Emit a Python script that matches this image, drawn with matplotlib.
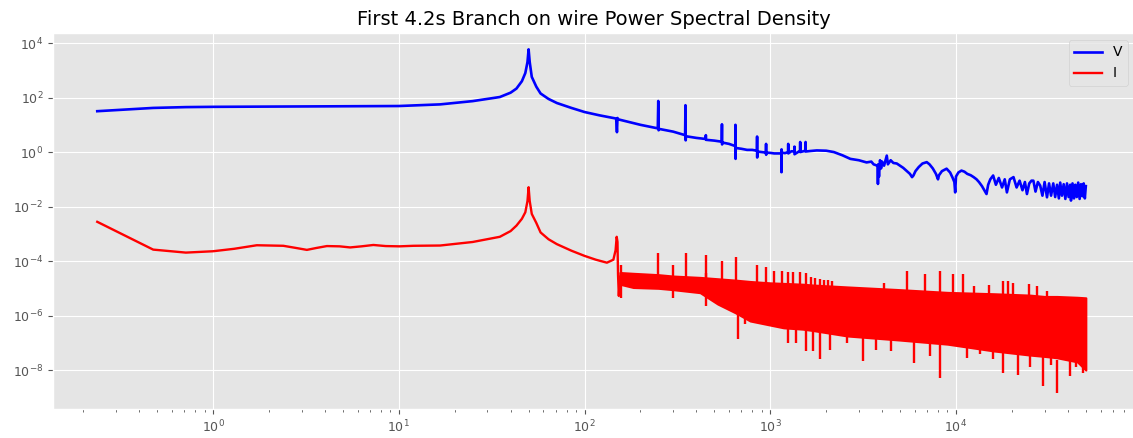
import numpy as np
import matplotlib.pyplot as plt

# PSD values are written as log10 (decades)
V_freq = [0.238, 0.476, 0.714, 1.0, 2.0, 5.0, 10.0, 16.7, 25, 35, 40, 43, 46, 48, 49.3, 50, 50.7, 52, 55, 58, 64, 71, 85, 100, 120,
          148, 149.5, 150.5, 152, 200, 248, 249.5, 250.5, 252, 300, 348, 349.5, 350.5, 352, 400, 449, 450, 451, 500,
          548, 549.5, 550.5, 552, 600, 648, 649.5, 650.5, 652, 700, 750, 800, 848, 849.5, 850.5, 852, 900,
          948, 949.5, 950.5, 952, 1000, 1050, 1148, 1149.5, 1150.5, 1152, 1200, 1248, 1249.5, 1250.5, 1300, 1349, 1350, 1351,
          1448, 1449.5, 1450.5, 1548, 1549.5, 1550.5, 1650, 1780, 2000, 2200, 2450, 2700, 3000, 3300, 3500, 3600, 3700, 3790, 3800, 3810,
          3850, 3900, 3950, 4000, 4100, 4240, 4300, 4450, 4600, 4800, 5000, 5200, 5400, 5650, 5800, 5900, 6050, 6300, 6600,
          6960, 7200, 7500, 7800, 8000, 8100, 8400, 8900, 9300, 9600, 9800, 9900, 10000, 10300, 10700, 11100, 11500,
          12000, 12450, 12900, 13300, 13800, 14200, 14600, 14900, 15300, 15850, 16400, 17000, 17700, 18300, 18800, 19500, 20400, 21200,
          22000, 22800, 23500, 24100, 24800, 25500, 26100, 26800, 27600, 28400, 29200, 30000, 30900, 31700, 32500,
          33400, 34200, 35000, 35800, 36400, 37200, 38000, 38800, 39600, 40400, 41200, 41600, 42400, 43200, 43900,
          44700, 45500, 46300, 47100, 47900, 48700, 49400, 50000]
V_log = [1.50, 1.62, 1.65, 1.66, 1.67, 1.68, 1.69, 1.75, 1.87, 2.02, 2.18, 2.33, 2.6, 2.9, 3.3, 3.77, 3.3, 2.76, 2.4, 2.15, 1.95, 1.80, 1.62, 1.47, 1.35,
         1.23, 0.73, 1.25, 1.2, 1.0, 0.87, 1.875, 0.80, 0.85, 0.75, 0.62, 1.72, 0.43, 0.58, 0.52, 0.48, 0.62, 0.45, 0.42,
         0.38, 1.02, 0.28, 0.35, 0.3, 0.22, 1.0, -0.25, 0.15, 0.12, 0.08, 0.08, 0.05, 0.57, -0.2, 0.02, 0.0,
         -0.02, 0.3, -0.1, -0.02, -0.03, -0.05, -0.05, -0.74, 0.1, -0.02, -0.04, 0.0, 0.3, -0.05, 0.03, 0.02, 0.2, -0.08,
         0.05, 0.37, 0.0, 0.05, 0.37, 0.02, 0.04, 0.06, 0.05, 0.0, -0.12, -0.25, -0.3, -0.38, -0.35, -0.45, -0.48, -0.5, -1.17, -0.45,
         -0.9, -0.3, -0.6, -0.35, -0.5, -0.13, -0.45, -0.3, -0.4, -0.42, -0.5, -0.58, -0.68, -0.8, -0.92, -0.86, -0.7, -0.55, -0.42,
         -0.37, -0.45, -0.6, -0.8, -1.0, -0.85, -0.7, -0.61, -0.75, -0.95, -1.1, -1.48, -0.9, -0.75, -0.68, -0.72, -0.8,
         -0.85, -0.92, -1.0, -1.1, -1.25, -1.4, -1.54, -1.2, -1.0, -0.86, -1.2, -0.95, -1.3, -1.0, -1.48, -1.0, -0.92, -1.3,
         -1.05, -1.4, -1.1, -1.54, -1.15, -1.05, -1.05, -1.45, -1.1, -1.23, -1.6, -1.1, -1.66, -1.15, -1.6,
         -1.15, -1.65, -1.2, -1.7, -1.12, -1.6, -1.18, -1.72, -1.15, -1.65, -1.2, -1.78, -1.15, -1.7, -1.2,
         -1.65, -1.12, -1.72, -1.18, -1.62, -1.15, -1.7, -1.25]

# current: smooth low-frequency part
I_freq = [0.238, 0.476, 0.714, 1.0, 1.3, 1.72, 2.39, 2.8, 3.2, 3.6, 4.1, 4.8, 5.47, 6.3, 7.3, 8.5, 10.1, 12, 16.7, 25, 35, 40,
          43, 46, 48, 49.3, 50, 50.7, 52, 55, 58, 64, 71, 85, 100, 115, 132, 143, 147, 149, 150.5, 151.5, 153, 155, 158]
I_log = [-2.56, -3.58, -3.69, -3.64, -3.55, -3.42, -3.44, -3.52, -3.59, -3.52, -3.45, -3.46, -3.50, -3.46, -3.41, -3.45, -3.46, -3.44, -3.43, -3.30, -3.11, -2.9,
         -2.70, -2.45, -2.21, -1.8, -1.29, -1.8, -2.27, -2.6, -2.95, -3.2, -3.38, -3.62, -3.81, -3.95, -4.06, -3.95, -3.6, -3.11, -3.3, -4.5, -5.28, -4.6, -4.5]

# current: dense noise band above 150 Hz (upper / lower edge)
band_freq = [155, 183, 250, 300, 419, 522, 650, 780, 1000, 1180, 1500, 1700, 2600, 5000, 9000, 16000, 25000, 30000, 35000, 45000, 50000]
band_hi = [-4.42, -4.45, -4.5, -4.55, -4.6, -4.65, -4.7, -4.75, -4.8, -4.82, -4.85, -4.88, -4.95, -5.05, -5.15, -5.2, -5.25, -5.3, -5.3, -5.33, -5.35]
band_lo = [-4.85, -4.97, -5.0, -5.05, -5.16, -5.58, -5.9, -6.2, -6.35, -6.45, -6.5, -6.55, -6.75, -6.9, -7.05, -7.3, -7.45, -7.5, -7.55, -7.7, -8.0]

# current: harmonic spikes (upward) and deep dips
spike_freq = [250, 350, 450, 550, 650, 850, 950, 1050, 1150, 1250, 1320, 1450, 1550, 1650, 1740, 1850, 1950, 2050, 2160,
              4100, 5440, 6830, 8220, 9580, 10970, 12450, 15000, 18000, 19150, 20400, 24600, 27300, 30800]
spike_top = [-3.69, -3.69, -3.78, -3.99, -3.85, -4.14, -4.2, -4.36, -4.36, -4.4, -4.42, -4.42, -4.45, -4.6, -4.62, -4.65, -4.68, -4.7, -4.73,
             -4.79, -4.36, -4.48, -4.36, -4.48, -4.46, -4.91, -4.87, -4.75, -4.75, -4.79, -4.86, -4.91, -5.1]
dip_freq = [158, 300, 450, 670, 730, 880, 1250, 1370, 1550, 1700, 1850, 2100, 2590, 3170, 3700, 4470, 5940, 7250, 8220,
            11400, 13400, 15850, 18000, 21500, 25000, 29500, 32500, 34900, 41000, 44500, 48000]
dip_bot = [-5.34, -5.34, -5.65, -6.87, -6.3, -6.2, -7.0, -7.0, -7.31, -7.3, -7.61, -7.25, -7.0, -7.68, -7.25, -7.3, -7.74, -7.5, -8.29,
           -7.55, -7.4, -7.6, -8.1, -8.17, -7.9, -8.6, -7.8, -8.84, -8.23, -7.9, -8.1]

plt.style.use('ggplot')
fig = plt.figure(figsize=(11.33, 4.38), dpi=100)
ax = fig.add_axes([53 / 1133, 1 - 409 / 438, 1082 / 1133, 376 / 438])

ax.plot(V_freq, 10.0 ** np.array(V_log), color='b', lw=1.9, label='V')
ax.plot(I_freq, 10.0 ** np.array(I_log), color='r', lw=1.7, label='I')
ax.fill_between(band_freq, 10.0 ** np.array(band_lo), 10.0 ** np.array(band_hi), color='r', lw=1.5, edgecolor='r')
# spikes drawn down into the band so they join it
ax.vlines(spike_freq, 10.0 ** np.array(spike_top), 10.0 ** (np.array(spike_top) - 1.0), color='r', lw=1.7)
ax.vlines(dip_freq, 10.0 ** np.array(dip_bot), 10.0 ** (np.array(dip_bot) + 1.2), color='r', lw=1.7)

ax.set_xscale('log')
ax.set_yscale('log')
ax.set_xlim(0.1375, 9.2e4)
ax.set_ylim(10 ** -9.43, 10 ** 4.37)
ax.set_yticks([1e-8, 1e-6, 1e-4, 1e-2, 1e0, 1e2, 1e4])
ax.yaxis.set_minor_locator(plt.NullLocator())
ax.tick_params(labelsize=9)
ax.set_title('First 4.2s Branch on wire Power Spectral Density', fontsize=14)
ax.legend(loc='upper right')

fig.savefig('out.png', dpi=100)
